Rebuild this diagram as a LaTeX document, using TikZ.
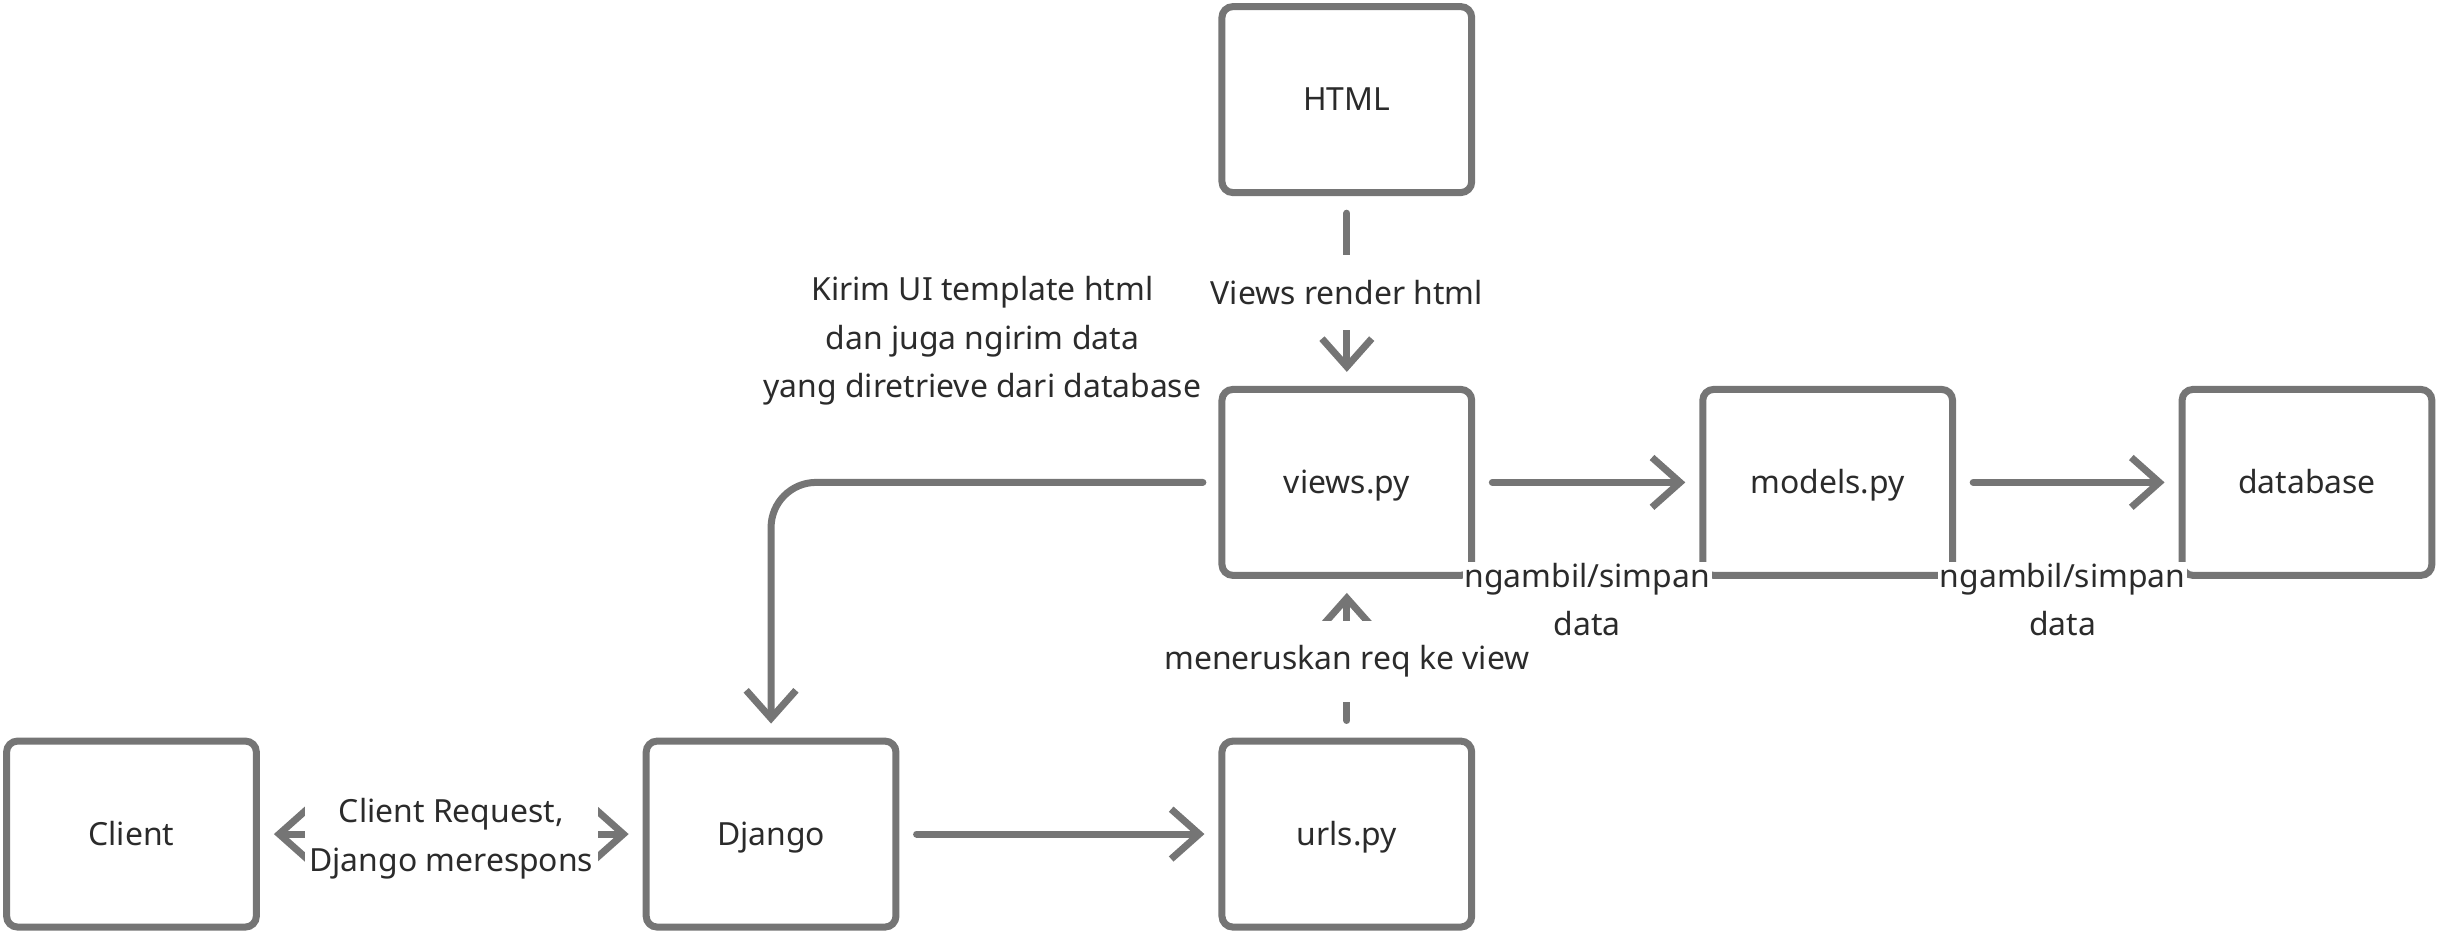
\documentclass[tikz,border=0pt]{standalone}
\usepackage{fontspec}
\setmainfont{Noto Sans}
\usetikzlibrary{arrows.meta}
\definecolor{linegray}{HTML}{757575}
\definecolor{textgray}{HTML}{2B2B2B}

\begin{document}
\begin{tikzpicture}[x=1pt, y=-1pt,
        box/.style={draw=linegray, line width=4.5pt, rounded corners=7pt,
            minimum width=160.5pt, minimum height=119.5pt, inner sep=0pt,
            text height=14.6pt, text depth=0pt,
            text=textgray, font=\fontsize{20.5}{31}\selectfont},
        arr/.style={draw=linegray, line width=4.5pt, line cap=round,
            -{Straight Barb[length=18pt, width=32pt]},
            shorten <=11pt, shorten >=9pt},
        lbl/.style={fill=white, text=textgray, align=center,
            font=\fontsize{20.5}{31}\selectfont, inner xsep=3pt, inner ysep=16pt}]

        \useasboundingbox (0,0) rectangle (1568,601.5);

        \node[box] (html) at (865.5,64) {HTML};
        \node[box] (views) at (865.5,310) {views.py};
        \node[box] (models) at (1174.5,310) {models.py};
        \node[box] (db) at (1482.5,310) {database};
        \node[box] (client) at (84.5,536) {Client};
        \node[box] (django) at (495.5,536) {Django};
        \node[box] (urls) at (865.5,536) {urls.py};

        \draw[arr] (html) -- node[lbl, yshift=-1pt] {Views render html} (views);
        \draw[arr] (urls) -- node[lbl, yshift=-2pt] {meneruskan req ke view} (views);

        \draw[arr] (views) -- node[lbl, inner sep=1pt, yshift=-75.5pt] {ngambil/simpan\\data} (models);
        \draw[arr] (models) -- node[lbl, inner sep=1pt, xshift=-3pt, yshift=-75.5pt] {ngambil/simpan\\data} (db);

        \draw[arr] (django) -- (urls);
        \draw[arr, {Straight Barb[length=18pt, width=32pt]}-{Straight Barb[length=18pt, width=32pt]},
            shorten <=9pt] (client) -- node[lbl, inner ysep=2pt, yshift=-3pt] {Client Request,\\Django merespons} (django);

        % balik ke django
        \draw[arr, rounded corners=29pt, shorten <=10pt] (views.west) -| node[lbl, inner sep=1pt, pos=0.25, xshift=-8pt, yshift=91pt]
            {Kirim UI template html\\dan juga ngirim data\\yang diretrieve dari database} (django.north);

\end{tikzpicture}
\end{document}
